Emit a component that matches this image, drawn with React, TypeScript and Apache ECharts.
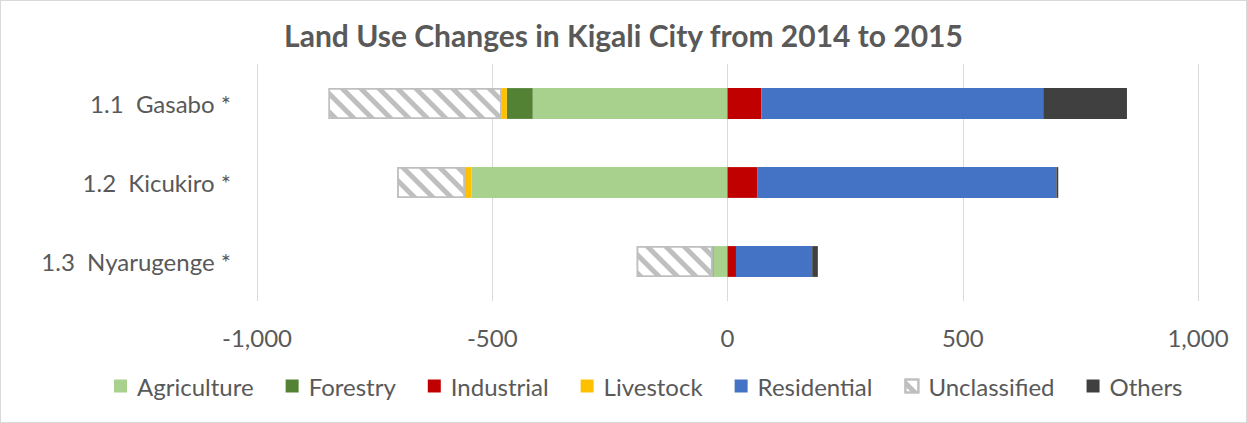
import React, { useEffect, useRef } from "react";
import * as echarts from "echarts";

const categories = ["1.1  Gasabo *", "1.2  Kicukiro *", "1.3  Nyarugenge *"];
const agriculture = [-414, -544, -30];
const forestry = [-55, 0, -2];
const industrial = [72, 64, 18];
const livestock = [-11, -14, 0];
const residential = [599, 635, 162];
const unclassified = [-368, -144, -161];
const others = [178, 4, 12];
const xTicks = [-1000, -500, 0, 500, 1000];

const FONT = "Lato, 'Open Sans', sans-serif";
const TEXT = "#595959";

export default function App() {
  const ref = useRef<HTMLDivElement>(null);
  useEffect(() => {
    if (!ref.current) return;
    const chart = echarts.init(ref.current, undefined, { renderer: "svg" });
    const mk = (name: string, data: number[], color: string, extra: any = {}) => ({
      name,
      type: "bar",
      stack: "total",
      data,
      barWidth: "39%",
      itemStyle: { color, ...(extra.itemStyle || {}) },
      emphasis: { disabled: true },
    });
    chart.setOption({
      animation: false,
      textStyle: { fontFamily: FONT },
      title: {
        text: "Land Use Changes in Kigali City from 2014 to 2015",
        left: "center",
        top: 14,
        textStyle: { fontFamily: FONT, fontSize: 30, fontWeight: "bold", color: TEXT },
      },
      grid: { left: 256, right: 48, top: 63, bottom: 121, containLabel: false },
      xAxis: {
        type: "value",
        min: xTicks[0],
        max: xTicks[xTicks.length - 1],
        interval: 500,
        axisLine: { show: false },
        axisTick: { show: false },
        splitLine: { show: true, lineStyle: { color: "#d9d9d9", width: 1 } },
        axisLabel: {
          color: TEXT,
          fontSize: 24,
          fontFamily: FONT,
          margin: 24,
          formatter: (v: number) => v.toLocaleString("en-US"),
        },
      },
      yAxis: {
        type: "category",
        data: categories,
        inverse: true,
        axisLine: { show: false },
        axisTick: { show: false },
        axisLabel: { color: TEXT, fontSize: 24, fontFamily: FONT, margin: 26 },
      },
      legend: {
        bottom: 19,
        left: 108,
        itemWidth: 13,
        itemHeight: 13,
        itemGap: 32,
        icon: "rect",
        textStyle: { color: TEXT, fontSize: 24, fontFamily: FONT, padding: [0, 0, 0, 5] },
        data: ["Agriculture", "Forestry", "Industrial", "Livestock", "Residential", "Unclassified", "Others"],
      },
      series: [
        mk("Agriculture", agriculture, "#a9d18e"),
        mk("Forestry", forestry, "#548235"),
        mk("Industrial", industrial, "#c00000"),
        mk("Livestock", livestock, "#ffc000"),
        mk("Residential", residential, "#4472c4"),
        mk("Unclassified", unclassified, "#ffffff", {
          itemStyle: {
            borderColor: "#bfbfbf",
            borderWidth: 1.5,
            decal: {
              symbol: "rect",
              color: "#bfbfbf",
              dashArrayX: [1, 0],
              dashArrayY: [5, 8],
              rotation: Math.PI / 4,
            },
          },
        }),
        mk("Others", others, "#404040"),
      ],
    });
    return () => chart.dispose();
  }, []);
  return (
    <div
      style={{
        position: "fixed",
        left: 0,
        top: 0,
        width: 1247,
        height: 423,
        background: "#fff",
        boxSizing: "border-box",
        border: "1px solid #d9d9d9",
      }}
    >
      <div ref={ref} style={{ width: 1245, height: 421 }} />
    </div>
  );
}
